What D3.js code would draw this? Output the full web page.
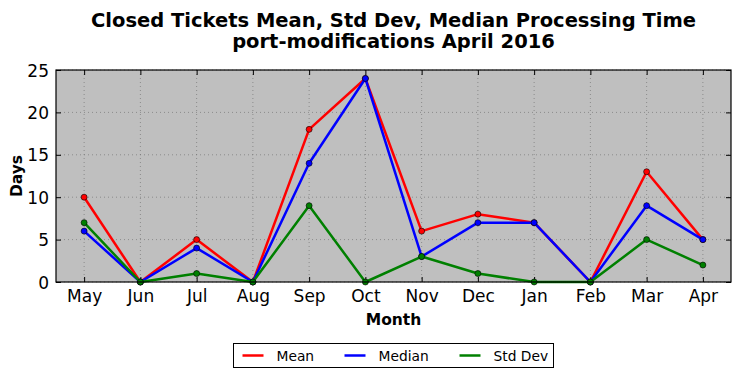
<!DOCTYPE html>
<html>
<head>
<meta charset="utf-8">
<script src="https://cdn.jsdelivr.net/npm/d3@7"></script>
<style>
  body { margin: 0; background: #fff; }
  text { font-family: "DejaVu Sans", sans-serif; }
</style>
</head>
<body>
<div id="chart"></div>
<script>
const months = ["May", "Jun", "Jul", "Aug", "Sep", "Oct", "Nov", "Dec", "Jan", "Feb", "Mar", "Apr"];
const meanValues = [10, 0, 5, 0, 18, 24, 6, 8, 7, 0, 13, 5];
const medianValues = [6, 0, 4, 0, 14, 24, 3, 7, 7, 0, 9, 5];
const stdValues = [7, 0, 1, 0, 9, 0, 3, 1, 0, 0, 5, 2];
const yTicks = [0, 5, 10, 15, 20, 25];

const series = [
    { name: "Mean", values: meanValues, color: "#ff0000" },
    { name: "Median", values: medianValues, color: "#0000ff" },
    { name: "Std Dev", values: stdValues, color: "#008000" }
];

const width = 741, height = 378;
const plotLeft = 56, plotRight = 731, plotTop = 70, plotBottom = 282;

const svg = d3.select('#chart').append('svg')
    .attr('width', width)
    .attr('height', height);

const x = d3.scaleLinear().domain([-0.5, months.length - 0.5]).range([plotLeft, plotRight]);
const y = d3.scaleLinear().domain([0, 25]).range([plotBottom, plotTop]);

// plot background
svg.append('rect')
    .attr('x', plotLeft).attr('y', plotTop)
    .attr('width', plotRight - plotLeft).attr('height', plotBottom - plotTop)
    .attr('fill', '#bfbfbf');

// grid
const grid = svg.append('g').attr('stroke', '#000').attr('stroke-width', 0.6)
    .attr('stroke-dasharray', '1,3').attr('opacity', 0.45);
grid.selectAll('.gx').data(months.map((m, i) => i)).enter().append('line')
    .attr('x1', d => x(d)).attr('x2', d => x(d)).attr('y1', plotTop).attr('y2', plotBottom);
grid.selectAll('.gy').data(yTicks).enter().append('line')
    .attr('y1', d => y(d)).attr('y2', d => y(d)).attr('x1', plotLeft).attr('x2', plotRight);

// axes
const xAxis = d3.axisBottom(x).tickValues(months.map((m, i) => i))
    .tickFormat(i => months[i]).tickSizeInner(-5).tickSizeOuter(0).tickPadding(8);
const yAxis = d3.axisLeft(y).tickValues(yTicks).tickSizeInner(-5).tickSizeOuter(0).tickPadding(7);

const gx = svg.append('g').attr('transform', `translate(0,${plotBottom})`).call(xAxis);
const gy = svg.append('g').attr('transform', `translate(${plotLeft},0)`).call(yAxis);
[gx, gy].forEach(g => {
    g.select('.domain').remove();
    g.selectAll('text').attr('font-size', 17).attr('fill', '#000')
        .attr('font-family', '"DejaVu Sans", sans-serif');
    g.selectAll('.tick line').attr('stroke', '#000');
});
gy.selectAll('text').attr('dy', '0.36em');

// top / right ticks
svg.append('g').attr('transform', `translate(0,${plotTop})`)
    .call(d3.axisTop(x).tickValues(months.map((m, i) => i)).tickFormat('').tickSizeInner(-5).tickSizeOuter(0))
    .call(g => g.select('.domain').remove());
svg.append('g').attr('transform', `translate(${plotRight},0)`)
    .call(d3.axisRight(y).tickValues(yTicks).tickFormat('').tickSizeInner(-5).tickSizeOuter(0))
    .call(g => g.select('.domain').remove());

// lines
const line = d3.line().x((d, i) => x(i)).y(d => y(d));
series.forEach(s => {
    svg.append('path')
        .datum(s.values)
        .attr('d', line)
        .attr('fill', 'none')
        .attr('stroke', s.color)
        .attr('stroke-width', 2.5)
        .attr('stroke-linejoin', 'round');
    svg.selectAll(null).data(s.values).enter().append('circle')
        .attr('cx', (d, i) => x(i))
        .attr('cy', d => y(d))
        .attr('r', 3)
        .attr('fill', s.color)
        .attr('stroke', '#000')
        .attr('stroke-width', 0.6);
});

// frame
svg.append('rect')
    .attr('x', plotLeft).attr('y', plotTop)
    .attr('width', plotRight - plotLeft).attr('height', plotBottom - plotTop)
    .attr('fill', 'none').attr('stroke', '#000').attr('stroke-width', 1.2);

// titles
const cx = (plotLeft + plotRight) / 2;
svg.append('text').attr('x', cx).attr('y', 26.5).attr('text-anchor', 'middle')
    .attr('font-size', 19.5).attr('font-weight', 'bold')
    .text('Closed Tickets Mean, Std Dev, Median Processing Time');
svg.append('text').attr('x', cx).attr('y', 48).attr('text-anchor', 'middle')
    .attr('font-size', 19.5).attr('font-weight', 'bold')
    .text('port-modifications April 2016');
svg.append('text').attr('x', cx).attr('y', 325).attr('text-anchor', 'middle')
    .attr('font-size', 15.5).attr('font-weight', 'bold').text('Month');
svg.append('text').attr('transform', `translate(22,${(plotTop + plotBottom) / 2}) rotate(-90)`)
    .attr('text-anchor', 'middle').attr('font-size', 15.5).attr('font-weight', 'bold').text('Days');

// legend
const legend = svg.append('g').attr('transform', 'translate(233.5,343.5)');
legend.append('rect').attr('width', 320).attr('height', 24)
    .attr('fill', '#fff').attr('stroke', '#000').attr('stroke-width', 1);
const legendX = [9, 111, 226];
series.forEach((s, i) => {
    legend.append('line')
        .attr('x1', legendX[i]).attr('x2', legendX[i] + 21)
        .attr('y1', 12).attr('y2', 12)
        .attr('stroke', s.color).attr('stroke-width', 2.5);
    legend.append('text')
        .attr('x', legendX[i] + 34).attr('y', 17)
        .attr('font-size', 13.8).text(s.name);
});
</script>
</body>
</html>
